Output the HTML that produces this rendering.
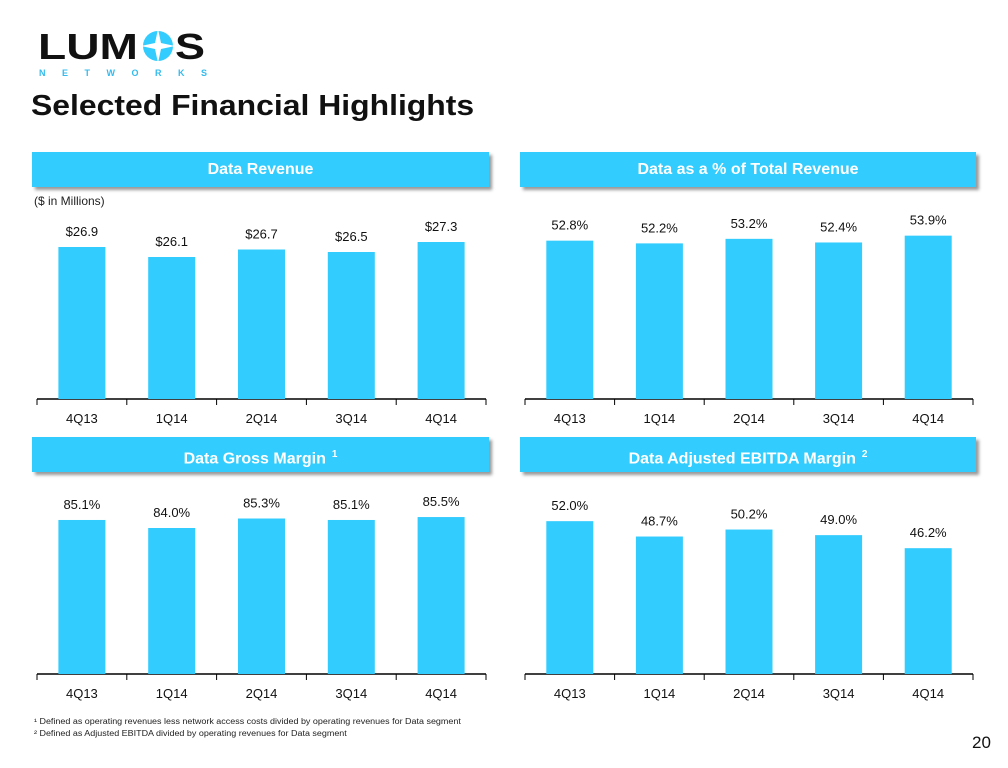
<!DOCTYPE html>
<html><head><meta charset="utf-8"><style>
body{margin:0;background:#fff;font-family:"Liberation Sans",sans-serif;}
#page{position:relative;width:1008px;height:768px;overflow:hidden;background:#fff;}
.hdr{position:absolute;height:35px;background:#33ccff;color:#fff;font-weight:bold;font-size:16px;text-align:center;line-height:35px;box-shadow:3px 3px 3px #999;}
.hdr sup{font-size:10px;margin-left:6px;}
svg text{font-family:"Liberation Sans",sans-serif;}
</style></head><body>
<div id="page">
<svg style="position:absolute;left:36px;top:28px" width="175" height="50">
<text x="2" y="31" font-size="36" font-weight="900" fill="#111" textLength="100" lengthAdjust="spacingAndGlyphs">LUM</text>
<circle cx="122" cy="18" r="15" fill="#33ccff"/>
<path d="M122 1 L125 15 L139 18 L125 21 L122 35 L119 21 L105 18 L119 15 Z" fill="#fff"/>
<text x="139" y="31" font-size="36" font-weight="900" fill="#111" textLength="30" lengthAdjust="spacingAndGlyphs">S</text>
<text x="3" y="48" font-size="9" font-weight="bold" fill="#33bbee" letter-spacing="16.5">NETWORKS</text>
</svg>
<div style="position:absolute;left:31px;top:90px;font-size:29px;font-weight:bold;color:#111;transform:scaleX(1.1);transform-origin:left">Selected Financial Highlights</div>
<div class="hdr" style="left:32px;top:152px;width:457px">Data Revenue</div>
<div class="hdr" style="left:520px;top:152px;width:456px">Data as a % of Total Revenue</div>
<div class="hdr" style="left:32px;top:437px;width:457px">Data Gross Margin<sup>1</sup></div>
<div class="hdr" style="left:520px;top:437px;width:456px">Data Adjusted EBITDA Margin<sup>2</sup></div>
<div style="position:absolute;left:34px;top:194px;font-size:12px;color:#222">($ in Millions)</div>
<svg id="charts" style="position:absolute;left:0;top:0" width="1008" height="768"></svg>
<div style="position:absolute;left:34px;top:716px;font-size:8px;color:#222;line-height:12px;transform:scaleX(1.12);transform-origin:left">¹ Defined as operating revenues less network access costs divided by operating revenues for Data segment<br>² Defined as Adjusted EBITDA divided by operating revenues for Data segment</div>
<div style="position:absolute;left:972px;top:733px;font-size:17px;color:#111">20</div>
</div>
<script>
const categories=["4Q13","1Q14","2Q14","3Q14","4Q14"];
const revenueValues=[26.9,26.1,26.7,26.5,27.3];
const revenueLabels=["$26.9","$26.1","$26.7","$26.5","$27.3"];
const pctValues=[52.8,52.2,53.2,52.4,53.9];
const grossValues=[85.1,84.0,85.3,85.1,85.5];
const ebitdaValues=[52.0,48.7,50.2,49.0,46.2];
const svg=document.getElementById('charts');
const NS='http://www.w3.org/2000/svg';
function mk(t,a){const e=document.createElementNS(NS,t);for(const k in a)e.setAttribute(k,a[k]);svg.appendChild(e);return e;}
function chart(name,x0,x1,base,vals,labels,vmin,scale){
  const cw=(x1-x0)/categories.length;
  const ax=mk('line',{x1:x0,y1:base,x2:x1,y2:base,stroke:'#000','stroke-width':1.5});
  
  
  for(let i=0;i<=categories.length;i++){const t=mk('line',{x1:x0+i*cw,y1:base,x2:x0+i*cw,y2:base+6,stroke:'#000'});
    
    }
  vals.forEach((v,i)=>{
    const cx=x0+cw*(i+0.5),h=(v-vmin)*scale;
    const r=mk('rect',{x:cx-23.5,y:base-h,width:47,height:h,fill:'#33ccff'});
    
    
    const lt=mk('text',{x:cx,y:base-h-11,'font-size':13,'text-anchor':'middle',fill:'#111'});lt.textContent=labels[i];
    
    
    const ct=mk('text',{x:cx,y:base+24,'font-size':13,'text-anchor':'middle',fill:'#111'});ct.textContent=categories[i];
    
    
  });
}
const pct=a=>a.map(v=>v.toFixed(1)+'%');
chart('revenue',37,486,399,revenueValues,revenueLabels,14.74,12.5);
chart('data-pct',525,973,399,pctValues,pct(pctValues),18,4.55);
chart('gross-margin',37,486,674,grossValues,pct(grossValues),64,7.3);
chart('ebitda-margin',525,973,674,ebitdaValues,pct(ebitdaValues),19.2,4.66);
</script>
</body></html>
